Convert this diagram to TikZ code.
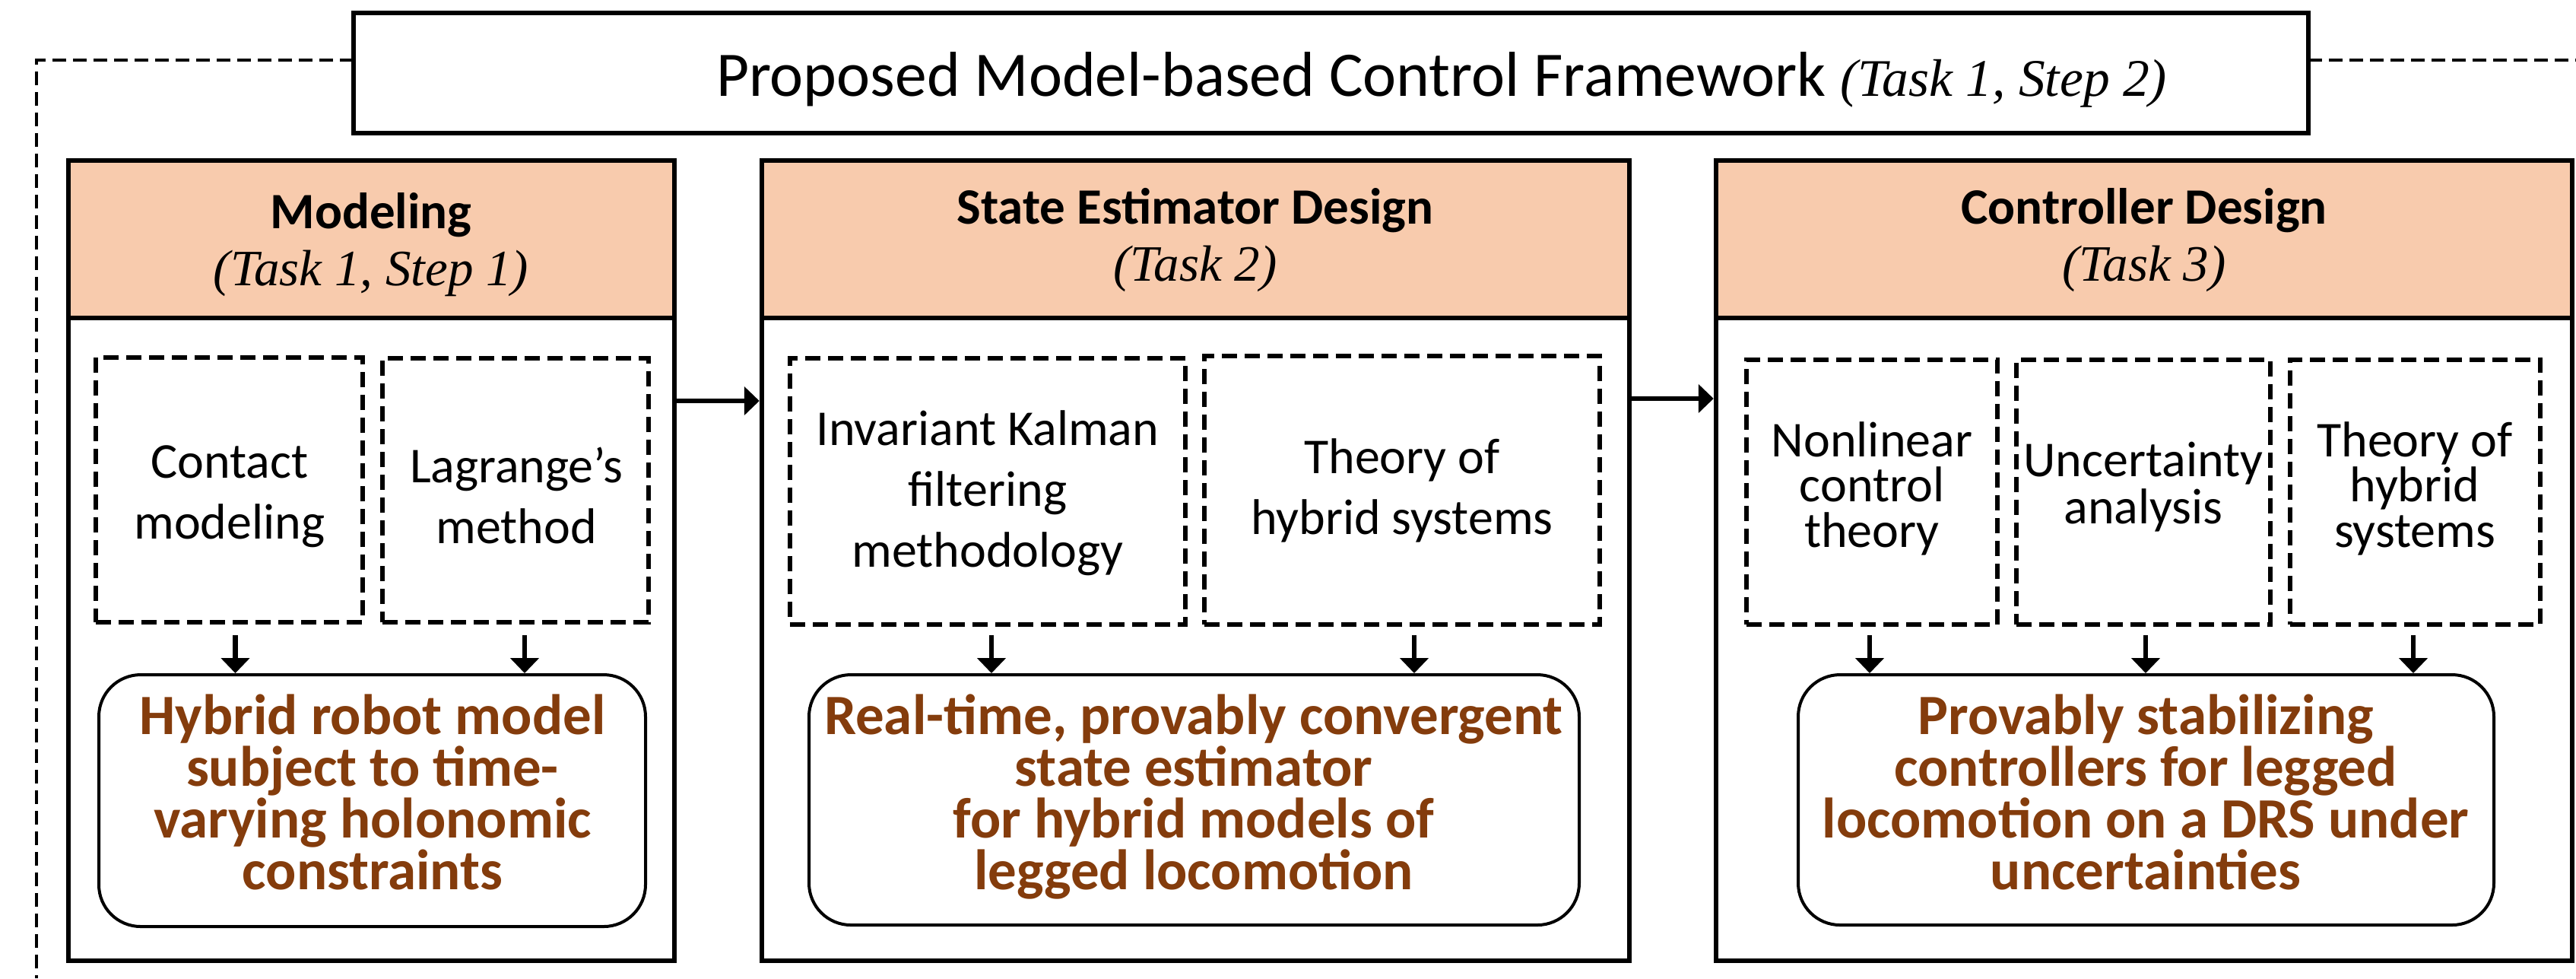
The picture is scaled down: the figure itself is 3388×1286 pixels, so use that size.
\documentclass[tikz,border=0pt]{standalone}
\usepackage{fontspec}
\setmainfont{Carlito}
\newfontfamily\tnr{Liberation Serif}
\usetikzlibrary{arrows.meta,fit}
\definecolor{hdrfill}{HTML}{F8CBAD}
\definecolor{outcome}{HTML}{843C0C}

\tikzset{
  box/.style={draw, line width=1.3pt, inner sep=0pt},
  hdr/.style={box, fill=hdrfill},
  method/.style={draw, line width=1.2pt, dash pattern=on 4pt off 2pt, inner sep=0pt},
  result/.style={draw, line width=0.8pt, rounded corners=11pt, inner sep=0pt},
  % multi-line labels are placed by the baseline of their last line
  txt/.style={inner sep=0pt, align=center, anchor=base},
  hdrtxt/.style={txt, font=\fontsize{13.4pt}{15pt}\selectfont},
  mtxt/.style={txt, font=\fontsize{13.2pt}{16pt}\selectfont},
  mtxttight/.style={txt, font=\fontsize{13.2pt}{11.9pt}\selectfont},
  rtxt/.style={txt, text=outcome, font=\fontsize{15pt}{13.6pt}\selectfont\bfseries},
  arr/.style={line width=1.3pt, -{Triangle[length=4pt,width=7.4pt]}},
  frame/.style={line width=0.8pt, dash pattern=on 3.6pt off 1.8pt},
}

\begin{document}
\begin{tikzpicture}[x=0.2pt, y=-0.2pt]
\useasboundingbox (0,0) rectangle (3388,1286);

% title bar
\node[box, fit={(465,17) (3036,175)}] (title) {};
\node[anchor=base west, inner sep=0pt, font=\fontsize{16.7pt}{18pt}\selectfont]
  (titletext) at (941,126)
  {Proposed Model-based Control Framework {\tnr\itshape\fontsize{13.9pt}{15pt}\selectfont(Task 1, Step 2)}};

% dashed frame leaving the title bar
\coordinate (jl) at (465,79);
\coordinate (fl) at (48,1286);
\coordinate (jr) at (3036,79);
\coordinate (fr) at (3388,79);
\draw[frame] (jl) -| (fl);
\draw[frame] (jr) -- (fr);

% three work packages
\node[box, fill=white, fit={(90,211) (887,1263)}] (mod) {};
\node[hdr, fit={(90,211) (887,418)}] (modh) {};
\node[hdrtxt] (modht) at (488,375) {{\bfseries Modeling}\\{\tnr\itshape (Task 1, Step 1)}};

\node[box, fill=white, fit={(1002,211) (2143,1263)}] (est) {};
\node[hdr, fit={(1002,211) (2143,418)}] (esth) {};
\node[hdrtxt] (estht) at (1572,369) {{\bfseries State Estimator Design}\\{\tnr\itshape (Task 2)}};

\node[box, fill=white, fit={(2257,211) (3383,1263)}] (ctl) {};
\node[hdr, fit={(2257,211) (3383,418)}] (ctlh) {};
\node[hdrtxt] (ctlht) at (2820,369) {{\bfseries Controller Design}\\{\tnr\itshape (Task 3)}};

% methods
\node[method, fit={(126,470) (477,818)}] (contact) {};
\node[mtxt] (contactt) at (302,708) {Contact\\modeling};
\node[method, fit={(503,471) (853,818)}] (lagr) {};
\node[mtxt] (lagrt) at (679,714) {Lagrange’s\\method};

\node[method, fit={(1039,471) (1559,821)}] (ikf) {};
\node[mtxt] (ikft) at (1299,745) {Invariant Kalman\\filtering\\methodology};
\node[method, fit={(1584,468) (2104,821)}] (hybe) {};
\node[mtxt] (hybet) at (1844,702) {Theory of\\hybrid systems};

\node[method, fit={(2297,473) (2627,821)}] (nlc) {};
\node[mtxttight] (nlct) at (2462,719) {Nonlinear\\control\\theory};
\node[method, fit={(2652,473) (2986,821)}] (unc) {};
\node[txt, font=\fontsize{13.2pt}{12.4pt}\selectfont] (unct) at (2819,688) {Uncertainty\\analysis};
\node[method, fit={(3012,473) (3341,821)}] (hybc) {};
\node[mtxttight] (hybct) at (3176,719) {Theory of\\hybrid\\systems};

% outcomes
\node[result, fit={(130,887) (849,1218)}] (rmod) {};
\node[rtxt] (rmodt) at (490,1169) {Hybrid robot model\\subject to time-\\varying holonomic\\constraints};
\node[result, fit={(1064,887) (2077,1216)}] (rest) {};
\node[rtxt] (restt) at (1570,1169) {Real-time, provably convergent\\state estimator\\for hybrid models of\\legged locomotion};
\node[result, fit={(2365,887) (3280,1216)}] (rctl) {};
\node[rtxt] (rctlt) at (2822,1169) {Provably stabilizing\\controllers for legged\\locomotion on a DRS under\\uncertainties};

% arrows from methods to outcomes
\draw[arr] ([xshift=1.6pt,yshift=-2.8pt]contact.south) coordinate (a1) -- (a1 |- rmod.north);
\draw[arr] ([xshift=2.4pt,yshift=-2.8pt]lagr.south) coordinate (a2) -- (a2 |- rmod.north);
\draw[arr] ([xshift=1pt,yshift=-2.2pt]ikf.south) coordinate (a3) -- (a3 |- rest.north);
\draw[arr] ([xshift=3.2pt,yshift=-2.2pt]hybe.south) coordinate (a4) -- (a4 |- rest.north);
\draw[arr] ([xshift=-0.6pt,yshift=-2.2pt]nlc.south) coordinate (a5) -- (a5 |- rctl.north);
\draw[arr] ([xshift=0.6pt,yshift=-2.2pt]unc.south) coordinate (a6) -- (a6 |- rctl.north);
\draw[arr] ([xshift=-0.5pt,yshift=-2.2pt]hybc.south) coordinate (a7) -- (a7 |- rctl.north);

% arrows between work packages
\draw[arr] ([yshift=42pt]mod.east) -- ([yshift=42pt]est.west);
\draw[arr] ([yshift=42.6pt]est.east) -- ([yshift=42.6pt]ctl.west);
\end{tikzpicture}
\end{document}
